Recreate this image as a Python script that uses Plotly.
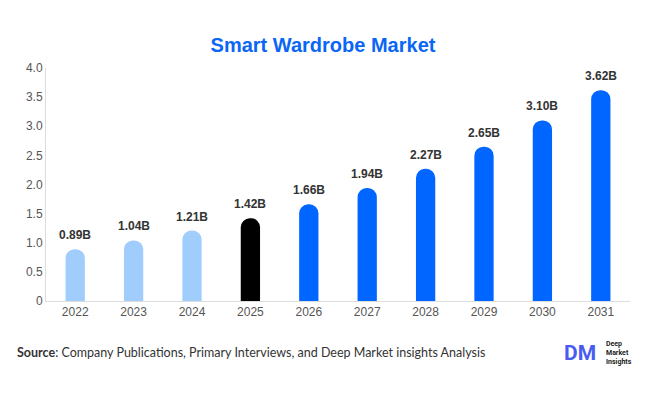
import plotly.graph_objects as go

years = ["2022", "2023", "2024", "2025", "2026", "2027", "2028", "2029", "2030", "2031"]
values = [0.89, 1.04, 1.21, 1.42, 1.66, 1.94, 2.27, 2.65, 3.10, 3.62]
labels = ["0.89B", "1.04B", "1.21B", "1.42B", "1.66B", "1.94B", "2.27B", "2.65B", "3.10B", "3.62B"]
colors = ["#a0cdfc"] * 3 + ["#000000"] + ["#0066ff"] * 6
tick_vals = [0, 0.5, 1.0, 1.5, 2.0, 2.5, 3.0, 3.5, 4.0]
tick_text = ["0", "0.5", "1.0", "1.5", "2.0", "2.5", "3.0", "3.5", "4.0"]

FONT = "Liberation Sans, Arial"

fig = go.Figure(go.Bar(
    x=years, y=values,
    marker=dict(color=colors, cornerradius=10, line=dict(width=0)),
    hoverinfo="skip",
))

label_annots = [
    dict(x=i, y=v, text="<b>%s</b>" % lb, xref="x", yref="y", showarrow=False,
         yanchor="bottom", yshift=5, font=dict(family=FONT, size=12, color="#333333"))
    for i, (v, lb) in enumerate(zip(values, labels))
]

fig.update_layout(
    width=646, height=394,
    margin=dict(l=46, r=16, t=68, b=93),
    paper_bgcolor="white", plot_bgcolor="white",
    bargap=0.67,
    showlegend=False,
    title=dict(text="<b>Smart Wardrobe Market</b>", x=0.5, xanchor="center", y=0.885, yanchor="middle",
               font=dict(family=FONT, size=20, color="#0a66f5")),
    xaxis=dict(type="category", range=[-0.5, 9.5], showline=True, linecolor="#dddddd", linewidth=1,
               showgrid=False, ticks="",
               tickfont=dict(family=FONT, size=12, color="#555555")),
    yaxis=dict(range=[0, 4], tickvals=tick_vals, ticktext=tick_text, showline=True, linecolor="#dddddd",
               linewidth=1, showgrid=False, zeroline=False, ticks="",
               tickfont=dict(family=FONT, size=12, color="#555555")),
    annotations=label_annots + [
        dict(text="<b>Source</b>: Company Publications, Primary Interviews, and Deep Market insights Analysis",
             xref="paper", yref="paper", x=(15-46)/584, y=-51/233, xanchor="left", yanchor="middle",
             showarrow=False, font=dict(family="Lato, Open Sans", size=12.5, color="#333333"),
             ),
        dict(text="<b>DM</b>", xref="paper", yref="paper", x=(580-46)/584, y=-52/233, xanchor="center",
             yanchor="middle", showarrow=False, font=dict(family="Roboto, Arial", size=21, color="#4a5cf0")),
        dict(text="<b>Deep<br>Market<br>Insights</b>", xref="paper", yref="paper", x=(604-46)/584, y=-52/233,
             xanchor="left", yanchor="middle", align="left", showarrow=False,
             font=dict(family="Roboto, Arial", size=7, color="#222222")),
    ],
)

fig.write_html("out.html")
